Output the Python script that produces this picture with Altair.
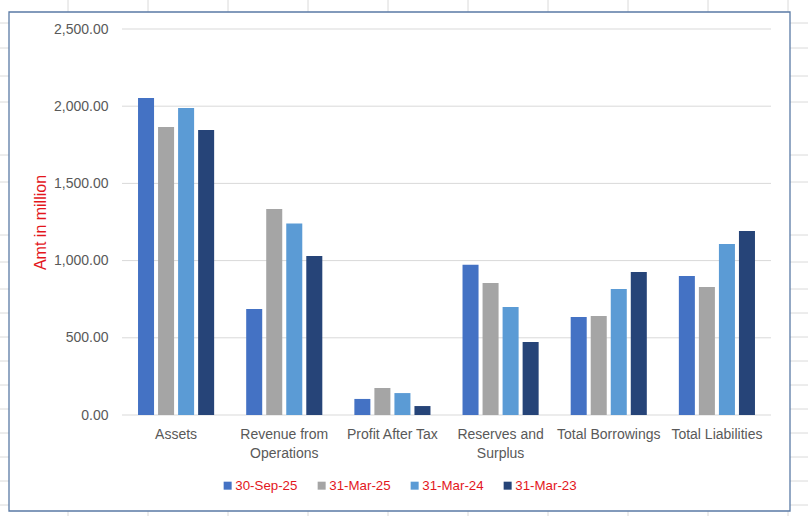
import altair as alt
import pandas as pd

# ---------------- data ----------------
categories = ["Assets", "Revenue from Operations", "Profit After Tax",
              "Reserves and Surplus", "Total Borrowings", "Total Liabilities"]
series = ["30-Sep-25", "31-Mar-25", "31-Mar-24", "31-Mar-23"]
sep25 = [2053, 687, 104, 973, 635, 900]
mar25 = [1865, 1334, 175, 855, 641, 829]
mar24 = [1988, 1240, 142, 700, 816, 1107]
mar23 = [1846, 1030, 58, 473, 926, 1192]
y_ticks = [0, 500, 1000, 1500, 2000, 2500]
colors = ["#4472C4", "#A5A5A5", "#5B9BD5", "#264478"]

rows = []
for s, vals in zip(series, [sep25, mar25, mar24, mar23]):
    for c, v in zip(categories, vals):
        rows.append({"category": c, "period": s, "amount": v})
df = pd.DataFrame(rows)

# ---------------- layout ----------------
LEFT, TOP, W, H = 122, 29, 649, 386
FULL_W, FULL_H = 808, 516
RED = "#e3161c"
GREY_TXT = "#595959"
FONT = "Liberation Sans"

# spreadsheet backdrop (decoration)
sheet_cols = [68 + 80 * k for k in range(10)]
sheet_rows = [23, 48, 76, 102, 155, 182, 235, 262, 289, 313, 337, 361,
              385, 409, 433, 457, 481, 505]
one = alt.Data(values=[{}])
sheet_layers = []
for cx in sheet_cols:
    sheet_layers.append(
        alt.Chart(one).mark_rule(color="#dadada", strokeWidth=1).encode(
            x=alt.value(cx - LEFT), y=alt.value(-TOP), y2=alt.value(FULL_H - TOP)))
for ry in sheet_rows:
    sheet_layers.append(
        alt.Chart(one).mark_rule(color="#dadada", strokeWidth=1).encode(
            y=alt.value(ry - TOP), x=alt.value(-LEFT), x2=alt.value(FULL_W - LEFT)))

box = alt.Chart(one).mark_rect(fill="white", stroke="#5a7aa5", strokeWidth=1.3).encode(
    x=alt.value(9 - LEFT), x2=alt.value(790 - LEFT),
    y=alt.value(12 - TOP), y2=alt.value(511 - TOP))

grid = alt.Chart(pd.DataFrame({"v": y_ticks})).mark_rule(
    color="#d9d9d9", strokeWidth=1).encode(y=alt.Y("v:Q"))

label_expr = ("datum.label == 'Revenue from Operations' ? ['Revenue from', 'Operations'] : "
              "datum.label == 'Reserves and Surplus' ? ['Reserves and', 'Surplus'] : datum.label")

bars = alt.Chart(df).mark_bar().encode(
    x=alt.X("category:N", sort=categories,
            scale=alt.Scale(paddingInner=0, paddingOuter=0),
            axis=alt.Axis(title=None, labelAngle=0, domain=False, ticks=False, tickSize=0,
                          labelPadding=12, labelFontSize=14, labelColor=GREY_TXT,
                          labelFont=FONT, labelExpr=label_expr, labelLineHeight=19,
                          zindex=1)),
    xOffset=alt.XOffset("period:N", sort=series,
                        scale=alt.Scale(paddingInner=0.2, paddingOuter=0.8)),
    y=alt.Y("amount:Q",
            scale=alt.Scale(domain=[0, 2500], nice=False),
            axis=alt.Axis(title="Amt in million", values=y_ticks, format=",.2f",
                          grid=False, domain=False, ticks=False, tickSize=0,
                          labelPadding=14, labelFontSize=14, labelColor=GREY_TXT,
                          labelFont=FONT, titleColor=RED, titleFont=FONT,
                          titleFontSize=16, titleFontWeight="normal",
                          titleX=45 - LEFT, titleY=222 - TOP, titleAngle=-90,
                          titleBaseline="alphabetic", titleAlign="center",
                          zindex=1)),
    color=alt.Color("period:N", sort=series,
                    scale=alt.Scale(domain=series, range=colors),
                    legend=alt.Legend(title=None, orient="none", direction="horizontal",
                                      legendX=221 - LEFT, legendY=479 - TOP,
                                      symbolType="square", symbolSize=64,
                                      symbolStrokeWidth=0, labelFontSize=13.3,
                                      labelColor=RED, labelFont=FONT, labelOffset=1,
                                      columnPadding=17, padding=0, zindex=1)),
)

chart = alt.layer(*sheet_layers, box, grid, bars).properties(
    width=W, height=H,
    autosize=alt.AutoSizeParams(type="none"),
    padding={"left": LEFT, "top": TOP, "right": FULL_W - LEFT - W, "bottom": FULL_H - TOP - H},
    background="white",
).configure_view(stroke=None)

chart.save("out.html", embed_options={"renderer": "svg", "actions": False})
